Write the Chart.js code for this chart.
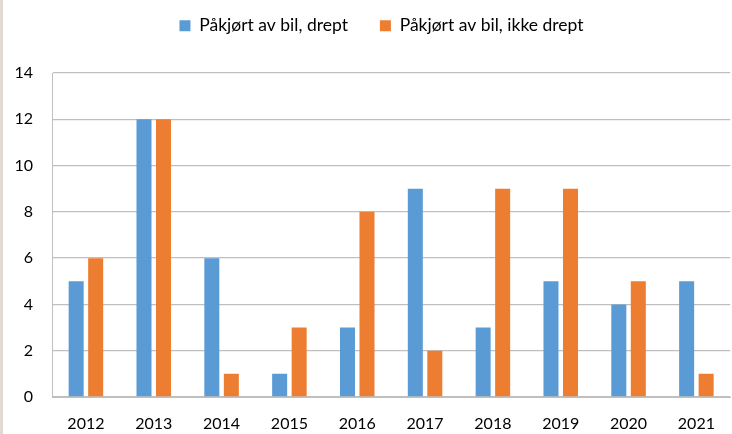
<!DOCTYPE html>
<html><head><meta charset="utf-8">
<script src="https://cdn.jsdelivr.net/npm/chart.js@4/dist/chart.umd.min.js"></script>
<style>
html,body{margin:0;padding:0;background:#fff;}
#wrap{position:relative;width:732px;height:434px;}
#stripe{position:absolute;left:0;top:0;width:3px;height:434px;background:#e2d9d3;}
canvas{position:absolute;left:0;top:0;}
</style></head><body>
<div id="wrap"><div id="stripe"></div><canvas id="c" width="732" height="434"></canvas></div>
<script>
const categories = ["2012","2013","2014","2015","2016","2017","2018","2019","2020","2021"];
const seriesNames = ["Påkjørt av bil, drept","Påkjørt av bil, ikke drept"];
const killed = [5,12,6,1,3,9,3,5,4,5];
const notKilled = [6,12,1,3,8,2,9,9,5,1];
const FONT = "Lato, 'Liberation Sans', sans-serif";
const TOP_PAD = -15;
const legendSpace = {
  id: 'legendSpace',
  beforeInit(chart) {
    const fit = chart.legend.fit;
    chart.legend.fit = function() { fit.call(this); this.height = 73 - TOP_PAD; };
  },
  afterLayout(chart) {
    chart.legend.left += 16;
    chart.legend.right += 16;
  }
};
const chart = new Chart(document.getElementById('c'), {
  type: 'bar',
  data: {
    labels: categories,
    datasets: [
      {label: seriesNames[0], data: killed, backgroundColor: '#5b9bd5', barPercentage: 0.77, categoryPercentage: 0.575},
      {label: seriesNames[1], data: notKilled, backgroundColor: '#ed7d31', barPercentage: 0.77, categoryPercentage: 0.575}
    ]
  },
  plugins: [legendSpace],
  options: {
    responsive: false,
    animation: false,
    layout: {padding: {left: 0, right: 1, top: TOP_PAD, bottom: 0}},
    plugins: {
      legend: {
        position: 'top',
        labels: {boxWidth: 11, boxHeight: 11, color: '#000', font: {family: FONT, size: 17.5}, padding: 32},
        onClick: null
      },
      tooltip: {enabled: false}
    },
    scales: {
      x: {
        afterFit: s => { s.height = 37; },
        grid: {display: false, drawTicks: false},
        border: {display: true, color: '#bfbfbf'},
        ticks: {color: '#000', font: {family: FONT, size: 16}, padding: 17, maxRotation: 0}
      },
      y: {
        min: 0, max: 14,
        afterFit: s => { s.width = 52; },
        grid: {color: '#bfbfbf', tickLength: 0, lineWidth: 1.3},
        border: {display: true, color: '#bfbfbf'},
        ticks: {stepSize: 2, color: '#000', font: {family: FONT, size: 16}, padding: 19}
      }
    }
  }
});
</script>
</body></html>
